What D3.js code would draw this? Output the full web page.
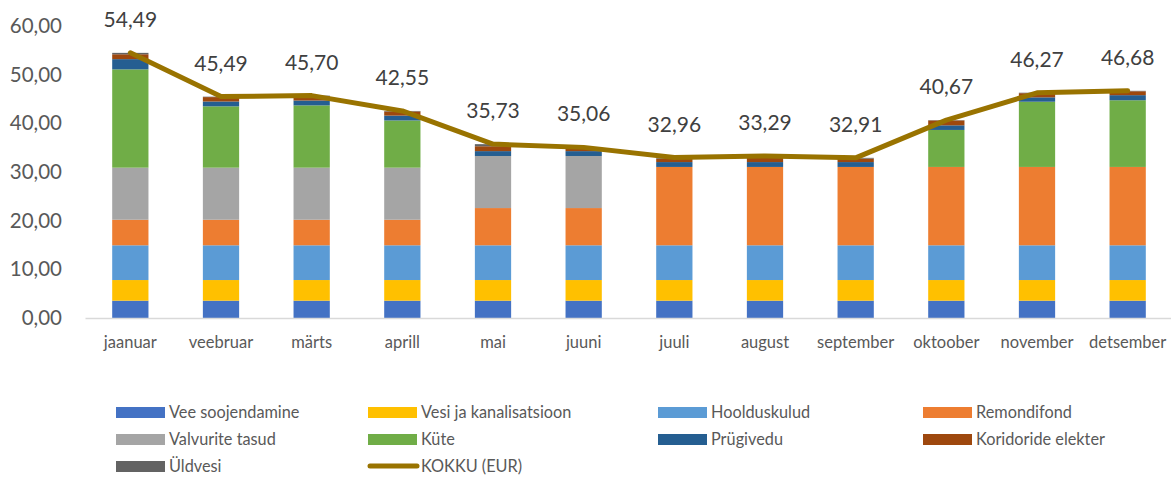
<!DOCTYPE html>
<html>
<head>
<meta charset="utf-8">
<script src="https://cdn.jsdelivr.net/npm/d3@7"></script>
<style>
  body { margin: 0; background: #fff; }
  svg text { font-family: Lato, "Liberation Sans", sans-serif; }
</style>
</head>
<body>
<div id="chart"></div>
<script>
const months = ['jaanuar', 'veebruar', 'märts', 'aprill', 'mai', 'juuni', 'juuli', 'august', 'september', 'oktoober', 'november', 'detsember'];

const veeSoojendamine = [3.56, 3.56, 3.56, 3.56, 3.56, 3.56, 3.56, 3.56, 3.56, 3.56, 3.56, 3.56];
const vesiKanal = [4.24, 4.24, 4.24, 4.24, 4.24, 4.24, 4.24, 4.24, 4.24, 4.24, 4.24, 4.24];
const hoolduskulud = [7.14, 7.14, 7.14, 7.14, 7.14, 7.14, 7.14, 7.14, 7.14, 7.14, 7.14, 7.14];
const remondifond = [5.25, 5.25, 5.25, 5.25, 7.65, 7.65, 16.1, 16.1, 16.1, 16.1, 16.1, 16.1];
const valvurid = [10.7, 10.7, 10.7, 10.7, 10.7, 10.7, 0, 0, 0, 0, 0, 0];
const kute = [20.2, 12.6, 12.8, 9.7, 0, 0, 0, 0, 0, 7.6, 13.4, 13.7];
const prugivedu = [2.1, 1.0, 1.0, 1.0, 1.0, 1.0, 1.0, 1.0, 1.0, 0.95, 0.9, 1.05];
const koridor = [1.0, 0.9, 0.9, 0.85, 1.0, 0.6, 0.7, 1.0, 0.7, 1.0, 0.85, 0.8];
const uldvesi = [0.29, 0.09, 0.1, 0.1, 0.43, 0.16, 0.22, 0.25, 0.17, 0.07, 0.1, 0.09];
const kokku = [54.49, 45.49, 45.70, 42.55, 35.73, 35.06, 32.96, 33.29, 32.91, 40.67, 46.27, 46.68];
const yTicks = [0, 10, 20, 30, 40, 50, 60];

const series = [
  { name: 'Vee soojendamine', values: veeSoojendamine, color: '#4472c4' },
  { name: 'Vesi ja kanalisatsioon', values: vesiKanal, color: '#ffc000' },
  { name: 'Hoolduskulud', values: hoolduskulud, color: '#5b9bd5' },
  { name: 'Remondifond', values: remondifond, color: '#ed7d31' },
  { name: 'Valvurite tasud', values: valvurid, color: '#a5a5a5' },
  { name: 'Küte', values: kute, color: '#70ad47' },
  { name: 'Prügivedu', values: prugivedu, color: '#255e91' },
  { name: 'Koridoride elekter', values: koridor, color: '#9e480e' },
  { name: 'Üldvesi', values: uldvesi, color: '#636363' }
];
const lineColor = '#997300';

const width = 1171, height = 477;
const fmt = v => d3.format('.2f')(v).replace('.', ',');

const svg = d3.select('#chart').append('svg')
  .attr('width', width)
  .attr('height', height);

const x = d3.scaleBand()
  .domain(months)
  .range([85, 1173])
  .paddingInner(0.6)
  .paddingOuter(0.3);

const y = d3.scaleLinear()
  .domain([0, 60])
  .range([318, 26]);

// stacked table
const table = months.map((m, i) => {
  const row = { month: m };
  series.forEach(s => { row[s.name] = s.values[i]; });
  return row;
});
const stacked = d3.stack().keys(series.map(s => s.name))(table);

// y axis labels (no line, no ticks)
const yAxis = svg.append('g')
  .attr('transform', 'translate(62,0)')
  .call(d3.axisLeft(y).tickValues(yTicks).tickSize(0).tickPadding(0).tickFormat(fmt));
yAxis.select('.domain').remove();
yAxis.selectAll('text')
  .attr('fill', '#595959')
  .style('font-size', '20.5px');

// bars
svg.append('g').selectAll('g')
  .data(stacked)
  .join('g')
  .attr('fill', (d, i) => series[i].color)
  .selectAll('rect')
  .data(d => d)
  .join('rect')
  .attr('x', d => x(d.data.month))
  .attr('width', x.bandwidth())
  .attr('y', d => y(d[1]))
  .attr('height', d => y(d[0]) - y(d[1]));

// x axis
const xAxis = svg.append('g')
  .attr('transform', `translate(0,${y(0)})`)
  .call(d3.axisBottom(x).tickSize(0).tickPadding(18));
xAxis.select('.domain')
  .attr('stroke', '#d9d9d9')
  .attr('stroke-width', 1.5);
xAxis.selectAll('text')
  .attr('fill', '#595959')
  .style('font-size', '16.5px');

// total line
const cx = m => x(m) + x.bandwidth() / 2;
svg.append('path')
  .datum(kokku)
  .attr('fill', 'none')
  .attr('stroke', lineColor)
  .attr('stroke-width', 5)
  .attr('stroke-linejoin', 'round')
  .attr('stroke-linecap', 'round')
  .attr('d', d3.line().x((d, i) => cx(months[i])).y(d => y(d)));

svg.append('g').selectAll('text')
  .data(kokku)
  .join('text')
  .attr('x', (d, i) => cx(months[i]))
  .attr('y', d => y(d) - 26)
  .attr('text-anchor', 'middle')
  .attr('fill', '#404040')
  .style('font-size', '21px')
  .text(fmt);

// legend
const legendItems = series.map(s => ({ name: s.name, color: s.color, type: 'rect' }))
  .concat([{ name: 'KOKKU (EUR)', color: lineColor, type: 'line' }]);
const colX = [116, 368, 658, 923];
const rowY = [412, 439, 466];

const legend = svg.append('g').selectAll('g')
  .data(legendItems)
  .join('g')
  .attr('transform', (d, i) => `translate(${colX[i % 4]},${rowY[Math.floor(i / 4)]})`);

legend.filter(d => d.type === 'rect').append('rect')
  .attr('x', 0)
  .attr('y', -5)
  .attr('width', 49)
  .attr('height', 11)
  .attr('fill', d => d.color);

legend.filter(d => d.type === 'line').append('line')
  .attr('x1', 2)
  .attr('x2', 49)
  .attr('stroke', d => d.color)
  .attr('stroke-width', 5)
  .attr('stroke-linecap', 'round');

legend.append('text')
  .attr('x', 53)
  .attr('dy', '0.35em')
  .attr('fill', '#595959')
  .style('font-size', '16.3px')
  .text(d => d.name);
</script>
</body>
</html>
